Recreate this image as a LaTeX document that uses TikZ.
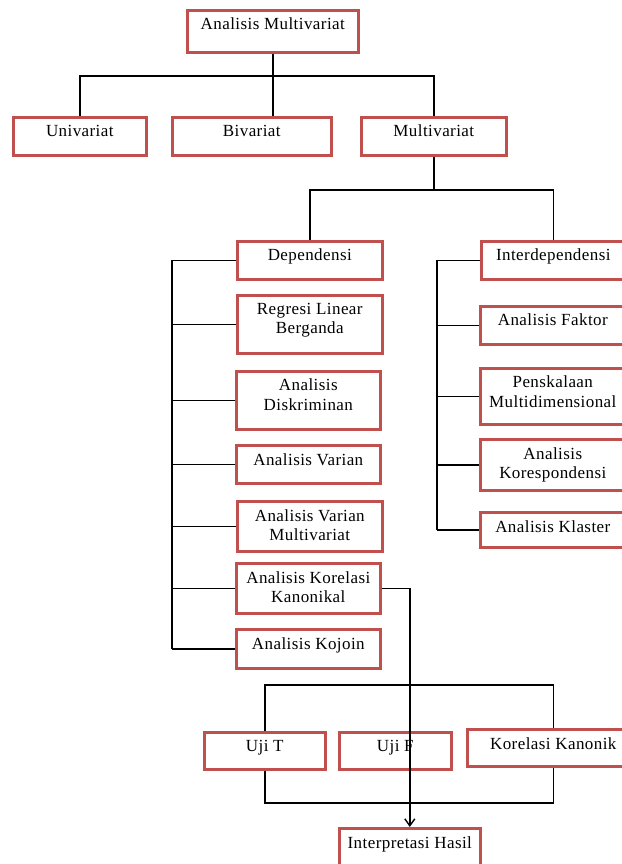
\documentclass[tikz,border=0pt]{standalone}
\usepackage{fontspec}
\setmainfont{Liberation Serif}[LetterSpace=2.5]
\usetikzlibrary{arrows.meta}
\definecolor{merahbingkai}{RGB}{192,80,77}
% kotak: nama, x1, y1, x2, y2, teks
\newcommand{\kotak}[6]{%
  \node[kotak, minimum width={(#4-#2)*1pt}, minimum height={(#5-#3)*1pt}] (#1) at (#2,#3) {};
  \node[teks] (#1-t) at ([yshift=-9pt]#1.north) {#6};}
\begin{document}
\begin{tikzpicture}[x=1pt, y=-1pt,
    kotak/.style={draw=merahbingkai, line width=2.6pt, inner sep=0pt, anchor=north west},
    teks/.style={anchor=north, align=center, inner sep=0pt, font=\fontsize{17}{19.5}\selectfont},
    garis/.style={line width=1.4pt}]
  \useasboundingbox (0,0) rectangle (621,864);

  % level atas
  \kotak{am}{186}{9}{357}{51}{Analisis Multivariat}
  \kotak{uni}{12}{116}{145}{154}{Univariat}
  \kotak{bi}{171}{116}{330}{154}{Bivariat}
  \kotak{mul}{360}{116}{505}{154}{Multivariat}

  % dependensi
  \kotak{dep}{236}{240}{381}{278}{Dependensi}
  \kotak{reg}{236}{294}{381}{352}{Regresi Linear\\Berganda}
  \kotak{dis}{235}{370}{379}{428}{Analisis\\Diskriminan}
  \kotak{var}{235}{444}{379}{482}{Analisis Varian}
  \kotak{avm}{236}{500}{381}{550}{Analisis Varian\\Multivariat}
  \kotak{akk}{235}{562}{379}{612}{Analisis Korelasi\\Kanonikal}
  \kotak{koj}{235}{628}{379}{667}{Analisis Kojoin}

  % interdependensi
  \kotak{inter}{480}{240}{624}{278}{Interdependensi}
  \kotak{fak}{479}{305}{624}{343}{Analisis Faktor}
  \kotak{pen}{479}{367}{624}{423}{Penskalaan\\Multidimensional}
  \kotak{kor}{479}{438}{624}{489}{Analisis\\Korespondensi}
  \kotak{kla}{479}{511}{624}{546}{Analisis Klaster}

  % uji
  \kotak{ujit}{203}{731}{324}{768}{Uji T}
  \kotak{ujif}{338}{731}{450}{768}{Uji F}
  \kotak{kk}{466}{728}{638}{765}{Korelasi Kanonik}
  \kotak{hasil}{338}{827}{479}{875}{Interpretasi Hasil}

  \coordinate (cab1) at (0,76);
  \coordinate (cab2) at (0,190);
  \coordinate (cab3) at (0,685);
  \coordinate (cab4) at (0,803);
  \coordinate (kiri) at (172,0);
  \coordinate (kanan) at (437,0);

  \draw[garis] (am.south) -- (am.south |- bi.north);
  \draw[garis] (uni.north) -- (uni.north |- cab1) -- (mul.north |- cab1) -- (mul.north);
  \draw[garis] (mul.south) -- (mul.south |- cab2);
  \draw[garis] (dep.north) -- (dep.north |- cab2) -- (inter.north |- cab2) -- (inter.north);

  \foreach \n in {dep,reg,dis,var,avm,akk,koj}
    \draw[garis] (\n.west) -- (\n.west -| kiri);
  \draw[garis] (dep.west -| kiri) -- (koj.west -| kiri);
  \foreach \n in {inter,fak,pen,kor,kla}
    \draw[garis] (\n.west) -- (\n.west -| kanan);
  \draw[garis] (inter.west -| kanan) -- (kla.west -| kanan);

  \draw[garis] (ujit.north) -- (ujit.north |- cab3) -- (kk.north |- cab3) -- (kk.north);
  \draw[garis] (ujit.south) -- (ujit.south |- cab4) -- (kk.south |- cab4) -- (kk.south);
  \draw[garis, -{Straight Barb[length=7pt, width=10pt]}] (akk.east) -| (hasil.north);
\end{tikzpicture}
\end{document}
